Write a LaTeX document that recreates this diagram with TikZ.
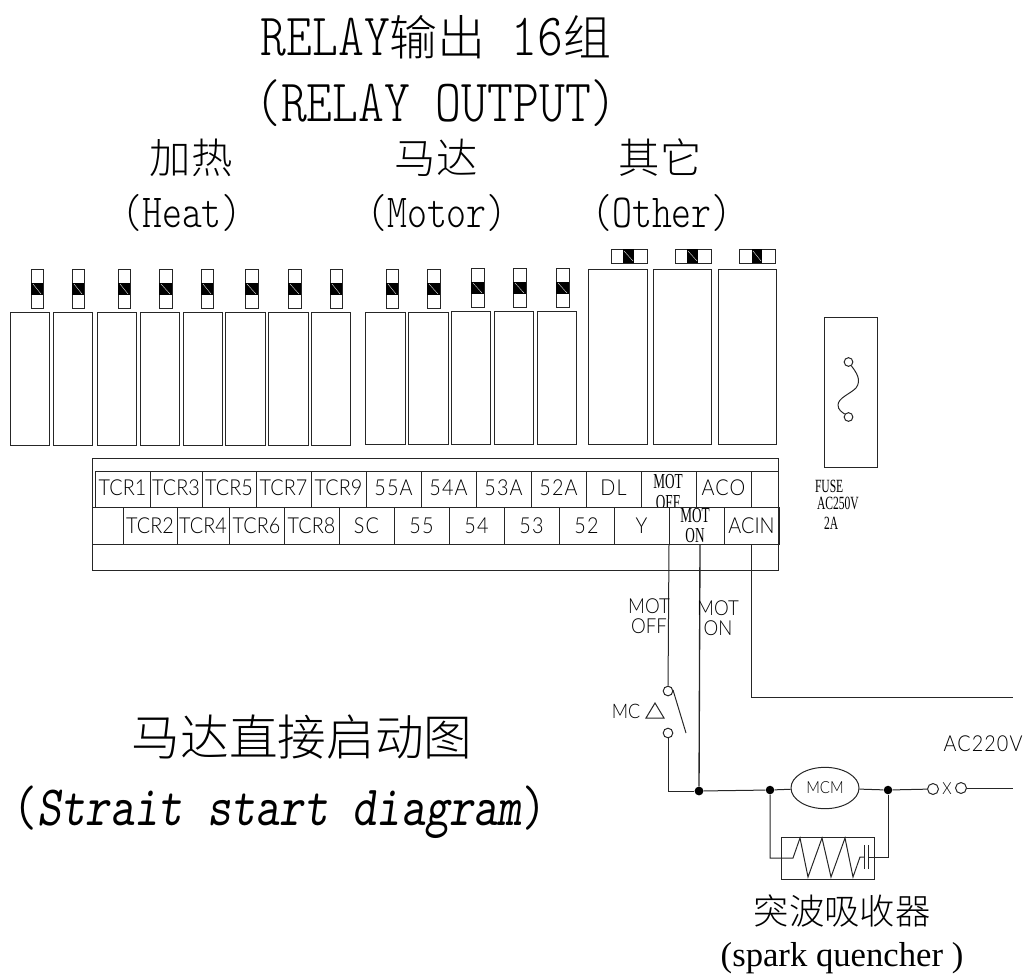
\documentclass[tikz,border=0pt]{standalone}
\usepackage{fontspec}
\setmainfont{Liberation Sans}
\newfontfamily\cjk{Noto Sans CJK SC Light}
\newfontfamily\mono[FakeStretch=.82]{Latin Modern Mono Light}
\newfontfamily\monob[FakeStretch=.8]{Latin Modern Mono Light}
\newfontfamily\monoc[FakeStretch=.81,ItalicFont={Latin Modern Mono Slanted}]{Latin Modern Mono}
\newfontfamily\lab[FakeStretch=.9]{Lato Light}
\newfontfamily\labw[FakeStretch=.9,LetterSpace=5]{Lato Light}
\newfontfamily\nar[FakeStretch=.62]{Liberation Serif}
\newfontfamily\ser{Liberation Serif}
\usetikzlibrary{calc,shapes.geometric}
\tikzset{
  txt/.style={inner sep=0pt,outer sep=0pt,align=center},
  line/.style={line width=.75pt,black!85},
  cellbox/.style={draw=black!85,line width=.75pt,inner sep=0pt,outer sep=0pt},
  dot/.style={circle,fill=black,inner sep=0pt,minimum size=6.6pt},
  term/.style={circle,draw=black!85,fill=white,line width=.75pt,inner sep=0pt,minimum size=7.2pt},
  termb/.style={term,minimum size=8.2pt},
}
\newcommand\pbox[5]{\node[cellbox,minimum width={(#4-#2)*.75pt},minimum height={(#5-#3)*.75pt}] (#1) at ({(#2+#4)/2},{(#3+#5)/2}) {};}
\newcommand\vfuse[7]{\pbox{#1}{#2}{#3}{#4}{#5}
  \fill[black] (#2,#6) rectangle (#4,#7);
  \draw[white,line width=.25pt] (#2+2,#6+1) -- (#4-2,#7-1);}
\newcommand\hfuse[7]{\pbox{#1}{#2}{#3}{#4}{#5}
  \fill[black] (#6,#3) rectangle (#7,#5);
  \draw[white,line width=.25pt] (#6+1,#3+2) -- (#7-1,#5-2);}
\begin{document}
\begin{tikzpicture}[x=.75pt,y=-.75pt]
\useasboundingbox (0,0) rectangle (1027,979);
% titles
\node[txt,anchor=base] (t1) at (436,55) {\fontsize{45}{47}\selectfont\mono RELAY{\fontsize{36}{38}\selectfont\cjk 输出} 16{\fontsize{36}{38}\selectfont\cjk 组}};
\node[txt,anchor=base] (t2) at (436,121) {\fontsize{45}{47}\selectfont\mono (RELAY OUTPUT)};
\node[txt] (h1) at (191,158) {\fontsize{31}{33}\selectfont\cjk 加热};
\node[txt,anchor=base] (h2) at (182,227) {\fontsize{35.6}{38}\selectfont\monob (Heat)};
\node[txt] (m1) at (436,158) {\fontsize{31}{33}\selectfont\cjk 马达};
\node[txt,anchor=base] (m2) at (437,227) {\fontsize{35.6}{38}\selectfont\monob (Motor)};
\node[txt] (o1) at (660,158) {\fontsize{31}{33}\selectfont\cjk 其它};
\node[txt,anchor=base] (o2) at (662,227) {\fontsize{35.6}{38}\selectfont\monob (Other)};
% heat relays
\foreach \n/\l/\r in {1/10/49,2/53/92,3/97/136,4/140/179,5/183/222,6/225/265,7/268/308,8/311/350}{
  \pbox{hr\n}{\l}{312}{\r}{445}}
\foreach \n/\l/\r in {1/31/43,2/72/84,3/118/130,4/159/172,5/201/213,6/245/258,7/288/301,8/330/342}{
  \vfuse{hf\n}{\l}{269}{\r}{308}{283}{295}}
% motor relays
\foreach \n/\l/\r/\t in {1/365/405/312,2/408/448/312,3/451/490/311,4/494/533/311,5/537/576/311}{
  \pbox{mr\n}{\l}{\t}{\r}{444}}
\foreach \n/\l/\r/\t/\bt in {1/386/398/269/283,2/427/440/269/283,3/471/484/268/282,4/513/526/268/282,5/556/569/268/282}{
  \vfuse{mf\n}{\l}{\t}{\r}{\t+39}{\bt}{\bt+12}}
% other relays
\foreach \n/\l/\r in {1/588/647,2/653/711,3/718/776}{
  \pbox{or\n}{\l}{269}{\r}{444}}
\hfuse{of1}{611}{249}{647}{263}{623}{634}
\hfuse{of2}{675}{249}{711}{263}{687}{698}
\hfuse{of3}{739}{249}{775}{263}{752}{762}
% fuse
\pbox{fusebox}{824}{317}{877}{467}
\node[term,minimum size=6.5pt] (fa) at (848.5,362) {};
\node[term,minimum size=6.5pt] (fb) at (848.5,417) {};
\draw[line] (fa) .. controls (856,372) and (862,380) .. (856,388) .. controls (850,394) and (838,398) .. (838,405) .. controls (838,410) and (842,412) .. (fb);
\node[txt,anchor=west] (f1) at (815,486) {\fontsize{14}{15}\selectfont\nar FUSE};
\node[txt,anchor=west] (f2) at (817,503) {\fontsize{14}{15}\selectfont\nar AC250V};
\node[txt,anchor=west] (f3) at (824,523) {\fontsize{14}{15}\selectfont\nar 2A};
% terminal table
\pbox{tbl}{92}{458}{778}{570}
\draw[line] (tbl.west |- 0,544) -- (tbl.east |- 0,544);
\draw[line] (95,471) -- (tbl.east |- 0,471);
% row 1 cells
\foreach \n/\l/\r/\s in {1/95/150/TCR1,2/150/202/TCR3,3/202/256/TCR5,4/256/311/TCR7,5/311/366/TCR9}{
  \pbox{ra\n}{\l}{471}{\r}{507}
  \node[txt] at ({(\l+\r)/2},488) {\fontsize{16.5}{18}\selectfont\lab\s};}
\foreach \n/\l/\r/\s in {6/366/421/55A,7/421/476/54A,8/476/531/53A,9/531/586/52A,10/586/641/DL,12/696/751/ACO}{
  \pbox{ra\n}{\l}{471}{\r}{507}
  \node[txt] at ({(\l+\r)/2},488) {\fontsize{16.5}{18}\selectfont\labw\s};}
\pbox{ra11}{641}{471}{696}{507}
\pbox{ra13}{751}{471}{778}{507}
\node[txt] (mo1) at (668,481.5) {\fontsize{16}{17}\selectfont\nar MOT};
\node[txt] (mo2) at (668,502.5) {\fontsize{16}{17}\selectfont\nar OFF};
% row 2 cells
\foreach \n/\l/\r/\s in {1/123/177/TCR2,2/177/229/TCR4,3/229/284/TCR6,4/284/339/TCR8,12/724/779/ACIN}{
  \node[cellbox,fill=white,minimum width={(\r-\l)*.75pt},minimum height=27.75pt] (rb\n) at ({(\l+\r)/2},525.5) {\fontsize{16.5}{18}\selectfont\lab\s};}
\foreach \n/\l/\r/\s in {5/339/394/SC,6/394/449/55,7/449/504/54,8/504/559/53,9/559/614/52,10/614/669/Y}{
  \node[cellbox,fill=white,minimum width={(\r-\l)*.75pt},minimum height=27.75pt] (rb\n) at ({(\l+\r)/2},525.5) {\fontsize{16.5}{18}\selectfont\labw\s};}
\node[cellbox,fill=white,minimum width=41.25pt,minimum height=27.75pt] (rb11) at (696.5,525.5) {};
\node[txt] (mn1) at (695,515.5) {\fontsize{16}{17}\selectfont\nar MOT};
\node[txt] (mn2) at (695,535.5) {\fontsize{16}{17}\selectfont\nar ON};
\draw[line] (92,507) -- (123,507);
\draw[line,line width=1pt] (rb12.north east) -- (rb12.south east);
% circuit nodes
\coordinate (offtop) at (669,544);
\coordinate (ontop) at (700,544);
\coordinate (actop) at (751,544);
\coordinate (accorner) at (751,697);
\coordinate (acend) at (1013,697);
\node[term] (sw1) at (668,691) {};
\node[term] (sw2) at (668,733) {};
\coordinate (blade1) at (673,690);
\coordinate (blade2) at (686,733);
\coordinate (swcorner) at (668,791);
\node[dot] (d1) at (699,791) {};
\node[dot,minimum size=6.4pt] (d2) at (770,790) {};
\node[draw=black!85,line width=.75pt,ellipse,minimum width=51pt,minimum height=31pt,inner sep=0pt] (mcm) at (825,788) {\fontsize{12.5}{14}\selectfont\lab MCM};
\node[dot,minimum size=6.4pt] (d3) at (888,790) {};
\node[termb] (c1) at (933,789) {};
\node[txt] (x) at (947,789) {\fontsize{12.5}{14}\selectfont\lab X};
\node[termb] (c2) at (961,788) {};
\coordinate (linend) at (1013,788);
\draw[line] (offtop) -- (sw1);
\draw[line,line width=1pt] (ontop) -- (d1);
\draw[line] (actop) -- (accorner) -- (acend);
\draw[line] (blade1) -- (blade2);
\draw[line] (sw2) -- (swcorner) -- (d1);
\draw[line] (d1) -- (d2) -- (mcm);
\draw[line] (mcm) -- (d3) -- (c1);
\draw[line] (c2) -- (linend);
% spark quencher
\pbox{sq}{781}{837}{874}{879}
\coordinate (sqL) at (793,858);
\coordinate (sqR) at (869,857);
\draw[line] (d2) |- (sqL) -- (800,838) -- (808,877) -- (822,838) -- (831,877) -- (845,838) -- (853,877) -- (860,857) -- (864,857);
\draw[line] (864.5,845) -- (864.5,869);
\draw[line] (868.5,845) -- (868.5,869);
\draw[line] (d3) |- (sqR);
% circuit labels
\node[txt] (l1) at (649,606) {\fontsize{15.5}{17}\selectfont\lab MOT};
\node[txt] (l2) at (649,626) {\fontsize{15.5}{17}\selectfont\lab OFF};
\node[txt] (l3) at (718,608) {\fontsize{15.5}{17}\selectfont\lab MOT};
\node[txt] (l4) at (718,628) {\fontsize{15.5}{17}\selectfont\lab ON};
\node[txt] (l5) at (626,711) {\fontsize{15}{16}\selectfont\lab MC};
\draw[line] (646,718) -- (655,703) -- (664,718) -- cycle;
\node[txt] (l6) at (983,744) {\fontsize{16.5}{18}\selectfont\labw AC220V};
\node[txt] (s1) at (842,911) {\fontsize{26.5}{30}\selectfont\cjk 突波吸收器};
\node[txt] (s2) at (842,958) {\fontsize{26}{28}\selectfont\ser (spark quencher )};
\node[txt] (big1) at (302,737) {\fontsize{36.5}{38}\selectfont\cjk 马达直接启动图};
\node[txt,anchor=base] (big2) at (280,825) {\fontsize{42.75}{45}\selectfont\monoc (\textit{Strait start diagram})};
\end{tikzpicture}
\end{document}
